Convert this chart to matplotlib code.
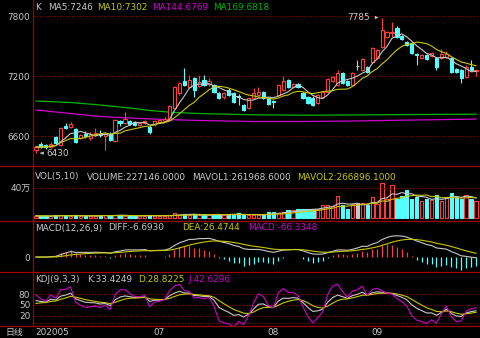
import numpy as np
import pandas as pd
import matplotlib
matplotlib.use('Agg')
import matplotlib.pyplot as plt
from matplotlib.patches import Rectangle
from matplotlib.lines import Line2D

plt.rcParams['font.family'] = ['DejaVu Sans', 'Noto Sans CJK SC']

# daily bars, late May 2020 .. end of Sep 2020
opens = [6460, 6520, 6510, 6490, 6590, 6510, 6700, 6690, 6670, 6580,
         6620, 6580, 6610, 6620, 6600, 6620, 6550, 6750, 6730, 6750,
         6740, 6710, 6730, 6690, 6720, 6740, 6750, 6760, 6880, 7030,
         7150, 7090, 7180, 7100, 7160, 7120, 7110, 7030, 6990, 7060,
         7030, 7000, 6910, 6880, 6980, 7010, 7040, 6980, 6950, 7010,
         7060, 7160, 7090, 7120, 7030, 6990, 6980, 6930, 6990, 7040,
         7150, 7110, 7230, 7150, 7110, 7300, 7260, 7290, 7340, 7380,
         7490, 7590, 7630, 7680, 7600, 7540, 7530, 7420, 7380, 7410,
         7400, 7380, 7380, 7390, 7380, 7270, 7260, 7190, 7290, 7250]
highs = [6500, 6540, 6520, 6540, 6600, 6690, 6730, 6740, 6680, 6620,
         6650, 6640, 6680, 6660, 6640, 6640, 6770, 6760, 6840, 6760,
         6750, 6740, 6760, 6700, 6760, 6770, 6790, 6910, 7100, 7140,
         7280, 7210, 7190, 7210, 7210, 7180, 7120, 7040, 7040, 7080,
         7040, 7020, 6920, 6990, 7080, 7090, 7050, 6990, 6960, 7120,
         7200, 7170, 7130, 7130, 7040, 7000, 7000, 7020, 7050, 7180,
         7200, 7260, 7240, 7160, 7240, 7360, 7380, 7300, 7490, 7470,
         7785, 7650, 7740, 7700, 7610, 7550, 7540, 7430, 7420, 7420,
         7440, 7390, 7470, 7450, 7390, 7280, 7270, 7310, 7360, 7270]
lows = [6430, 6480, 6470, 6480, 6510, 6500, 6670, 6680, 6530, 6570,
        6580, 6560, 6600, 6590, 6460, 6550, 6540, 6700, 6720, 6710,
        6700, 6700, 6720, 6620, 6700, 6730, 6740, 6750, 6870, 7010,
        7100, 7080, 6990, 7090, 7100, 7100, 7030, 6970, 6970, 7000,
        6930, 6910, 6850, 6870, 6970, 7000, 6970, 6910, 6880, 7000,
        7050, 7080, 7080, 7080, 6970, 6920, 6900, 6920, 6980, 7030,
        7140, 7100, 7120, 7100, 7100, 7260, 7250, 7230, 7330, 7370,
        7480, 7580, 7590, 7580, 7560, 7500, 7420, 7310, 7370, 7360,
        7390, 7260, 7370, 7380, 7230, 7230, 7130, 7180, 7250, 7200]
closes = [6490, 6490, 6490, 6520, 6530, 6680, 6680, 6720, 6540, 6610,
          6600, 6620, 6630, 6610, 6620, 6560, 6760, 6730, 6770, 6720,
          6710, 6730, 6750, 6640, 6750, 6760, 6770, 6900, 7090, 7130,
          7110, 7160, 7060, 7140, 7110, 7150, 7040, 6980, 7030, 7010,
          6940, 6990, 6860, 6980, 7030, 7040, 6980, 6920, 6940, 7110,
          7150, 7090, 7120, 7090, 6980, 6930, 6910, 7010, 7040, 7170,
          7190, 7230, 7130, 7110, 7230, 7300, 7370, 7240, 7480, 7460,
          7660, 7640, 7645, 7590, 7570, 7510, 7430, 7410, 7410, 7370,
          7430, 7290, 7420, 7420, 7240, 7240, 7180, 7290, 7260, 7260]
volumes = [30000, 25000, 28000, 22000, 35000, 40000, 30000, 25000, 38000, 22000,
           28000, 30000, 25000, 32000, 45000, 30000, 35000, 40000, 30000, 28000,
           25000, 30000, 32000, 40000, 25000, 28000, 30000, 35000, 60000, 45000,
           55000, 40000, 50000, 35000, 40000, 38000, 50000, 55000, 40000, 45000,
           55000, 60000, 35000, 35000, 40000, 45000, 45000, 77000, 77000, 60000,
           77000, 100000, 100000, 115000, 115000, 115000, 120000, 120000, 177000, 170000,
           160000, 293000, 170000, 120000, 180000, 200000, 200000, 170000, 271000, 180000,
           457000, 245000, 430000, 245000, 293000, 370000, 255000, 270000, 220000, 245000,
           230000, 302000, 225000, 272000, 330000, 280000, 250000, 300000, 253000, 227146]

# long averages (bar index, value)
ma144_idx = [0, 5, 13, 23, 33, 44, 54, 64, 74, 89]
ma144_val = [6860, 6835, 6795, 6770, 6755, 6745, 6745, 6750, 6758, 6769]
ma169_idx = [0, 7, 13, 19, 23, 28, 33, 44, 54, 64, 74, 89]
ma169_val = [6950, 6935, 6910, 6880, 6855, 6835, 6825, 6812, 6808, 6810, 6814, 6818]

month_idx = [0, 24, 47, 68]
month_labels = ['202005', '07', '08', '09']
price_ticks = [7800, 7200, 6600]
kdj_ticks = [80, 50, 20]

k_header = ['K', 'MA5:7246', 'MA10:7302', 'MA144:6769', 'MA169:6818']
vol_header = ['VOL(5,10)', 'VOLUME:227146.0000', 'MAVOL1:261968.6000', 'MAVOL2:266896.1000']
macd_header = ['MACD(12,26,9)', 'DIFF:-6.6930', 'DEA:26.4744', 'MACD:-66.3348']
kdj_header = ['KDJ(9,3,3)', 'K:33.4249', 'D:28.8225', 'J:42.6296']

RED = '#ff3c3c'
CYAN = '#54ffff'
GRAY = '#c8c8c8'
YEL = '#c8c800'
MAG = '#d000d0'
GRN = '#00b400'
AXC = '#a00000'
GRID = '#800000'
FS = 6.4

W, H = 480, 338
fig = plt.figure(figsize=(4.8, 3.38), dpi=100, facecolor='black')

def panel(top, bottom):
    ax = fig.add_axes([33 / W, 1 - bottom / H, (479 - 33) / W, (bottom - top) / H])
    ax.set_facecolor('black')
    for s in ax.spines.values():
        s.set_visible(False)
    ax.set_xlim(-0.6, 89.6)
    ax.set_xticks([])
    ax.tick_params(axis='y', length=0, pad=2, colors=GRAY, labelsize=FS)
    return ax

def ftext(x, y, s, color):
    fig.text(x / W, 1 - y / H, s, color=color, fontsize=FS, va='center', ha='left')

def hline(y, x0=0):
    fig.add_artist(Line2D([x0 / W, 1], [1 - y / H, 1 - y / H], transform=fig.transFigure,
                          color=AXC, lw=0.9))

n = len(closes)
xs = np.arange(n)
cl = pd.Series(closes, dtype=float)
op = np.array(opens, dtype=float)
hi = np.array(highs, dtype=float)
lo = np.array(lows, dtype=float)
vol = pd.Series(volumes, dtype=float)

# ---- price panel
ax = panel(0, 166)
ax.set_ylim(6300, 7960)
for v in price_ticks:
    ax.axhline(v, color=GRID, lw=0.7, ls=(0, (1.5, 1.5)))
ax.set_yticks(price_ticks, [str(v) for v in price_ticks])
for i in range(n):
    o, c = op[i], cl[i]
    if c > o:
        col, face = RED, 'black'
    elif c < o:
        col, face = CYAN, CYAN
    else:
        col, face = GRAY, GRAY
    ax.vlines(i, lo[i], hi[i], color=col, lw=0.8, zorder=2)
    ax.add_patch(Rectangle((i - 0.32, min(o, c)), 0.64, max(abs(c - o), 2),
                           facecolor=face, edgecolor=col, lw=0.8, zorder=3))
ax.plot(xs, cl.rolling(5, min_periods=1).mean(), color=GRAY, lw=0.8, zorder=4)
ax.plot(xs, cl.rolling(10, min_periods=1).mean(), color=YEL, lw=0.8, zorder=4)
ax.plot(ma144_idx, ma144_val, color=MAG, lw=0.9, zorder=1)
ax.plot(ma169_idx, ma169_val, color=GRN, lw=0.9, zorder=1)
top_i = int(np.argmax(hi))
ax.annotate(str(int(hi[top_i])), xy=(top_i - 0.2, hi[top_i]), xytext=(top_i - 2.4, hi[top_i]),
            color=GRAY, fontsize=FS, ha='right', va='center',
            arrowprops=dict(arrowstyle='-|>', color=GRAY, lw=0.6, mutation_scale=4))
low_i = int(np.argmin(lo))
ax.annotate(str(int(lo[low_i])), xy=(low_i + 0.3, lo[low_i]), xytext=(low_i + 2.1, lo[low_i] - 5),
            color=GRAY, fontsize=FS, ha='left', va='center',
            arrowprops=dict(arrowstyle='-|>', color=GRAY, lw=0.6, mutation_scale=4))
for s, x, c in zip(k_header, [35, 48, 97, 152, 213], [GRAY, GRAY, YEL, MAG, GRN]):
    ftext(x, 8, s, c)

# ---- volume panel
av = panel(166, 221)
av.set_ylim(-39000, 682000)
av.axhline(400000, color=GRID, lw=0.7, ls=(0, (1.5, 1.5)))
av.set_yticks([400000], ['40万'])
for i in range(n):
    if cl[i] > op[i]:
        col, face = RED, 'black'
    elif cl[i] < op[i]:
        col, face = CYAN, CYAN
    else:
        col, face = GRAY, GRAY
    av.add_patch(Rectangle((i - 0.34, 0), 0.68, vol[i], facecolor=face, edgecolor=col, lw=0.8))
av.plot(xs, vol.rolling(5, min_periods=1).mean(), color=GRAY, lw=0.8)
av.plot(xs, vol.rolling(10, min_periods=1).mean(), color=YEL, lw=0.8)
for s, x, c in zip(vol_header, [35, 87, 192, 297], [GRAY, GRAY, GRAY, YEL]):
    ftext(x, 177, s, c)

# ---- MACD panel
am = panel(221, 272)
am.set_ylim(-112, 270)
am.set_yticks([0], ['0'])
diff = cl.ewm(span=12, adjust=False).mean() - cl.ewm(span=26, adjust=False).mean()
dea = diff.ewm(span=9, adjust=False).mean()
macd = 2 * (diff - dea)
am.vlines(xs, 0, macd, colors=[RED if m >= 0 else CYAN for m in macd], lw=0.9)
am.plot(xs, diff, color=GRAY, lw=0.8)
am.plot(xs, dea, color=YEL, lw=0.8)
for s, x, c in zip(macd_header, [35, 108, 182, 248], [GRAY, GRAY, YEL, MAG]):
    ftext(x, 228, s, c)

# ---- KDJ panel
ak = panel(272, 326)
ak.set_ylim(-9.2, 142)
for v in kdj_ticks + [0]:
    ak.axhline(v, color=GRID, lw=0.7, ls=(0, (1.5, 1.5)))
ak.set_yticks(kdj_ticks, [str(v) for v in kdj_ticks])
llv = pd.Series(lo).rolling(9, min_periods=1).min()
hhv = pd.Series(hi).rolling(9, min_periods=1).max()
rsv = (cl - llv) / (hhv - llv) * 100
k_line, d_line = [], []
k, d = 50.0, 50.0
for r in rsv:
    k = 2 / 3 * k + r / 3
    d = 2 / 3 * d + k / 3
    k_line.append(k)
    d_line.append(d)
k_line = np.array(k_line)
d_line = np.array(d_line)
j_line = 3 * k_line - 2 * d_line
ak.plot(xs, k_line, color=GRAY, lw=0.8)
ak.plot(xs, d_line, color=YEL, lw=0.8)
ak.plot(xs, j_line, color=MAG, lw=0.8)
for s, x, c in zip(kdj_header, [35, 87, 138, 188], [GRAY, GRAY, YEL, MAG]):
    ftext(x, 280, s, c)

# date row
for i, lab in zip(month_idx, month_labels):
    ak.text(i - 0.2, -0.12, lab, transform=ak.get_xaxis_transform(), color=GRAY,
            fontsize=FS, ha='left', va='center')
ftext(5, 332, '日线', GRAY)

# frame lines
for y in [166, 221, 272, 326]:
    hline(y)
fig.add_artist(Line2D([33 / W, 33 / W], [1 - 326 / H, 1], transform=fig.transFigure,
                      color=AXC, lw=0.9))

fig.savefig('out.png', dpi=100, facecolor='black')
